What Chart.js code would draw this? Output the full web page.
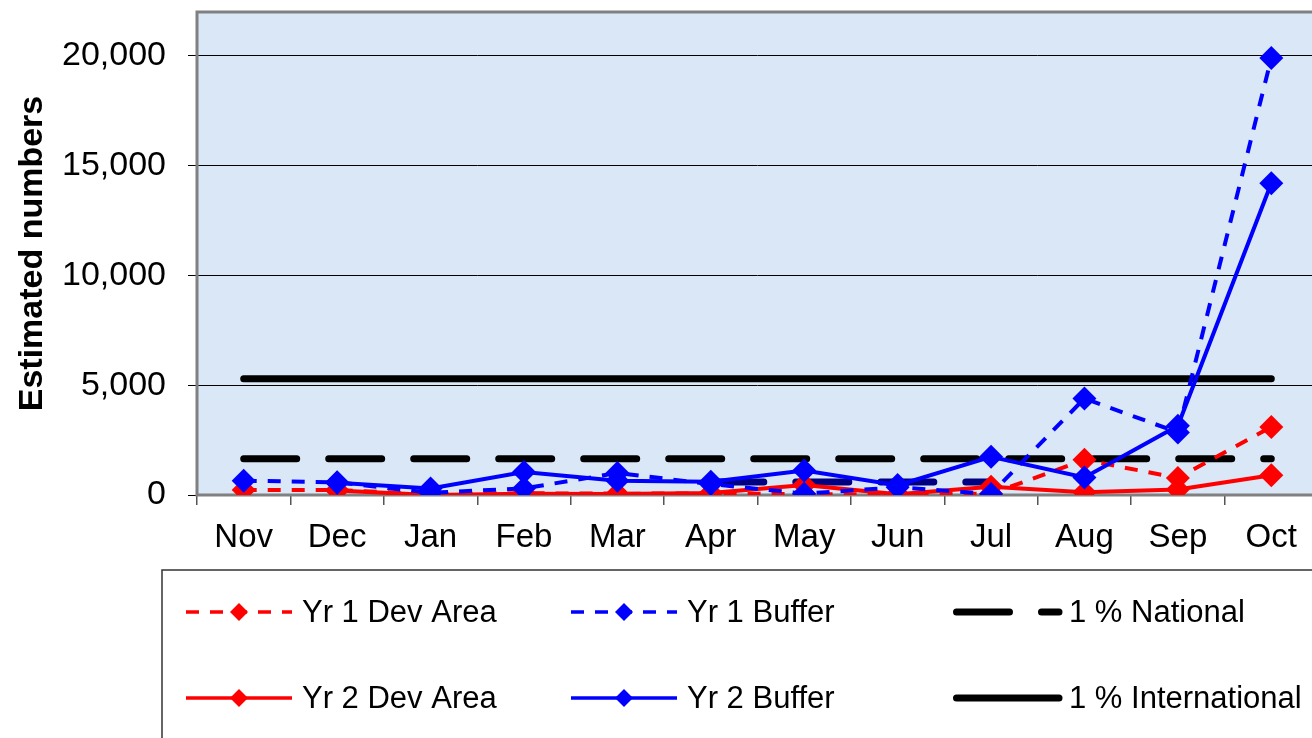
<!DOCTYPE html>
<html>
<head>
<meta charset="utf-8">
<style>
  html, body { margin: 0; padding: 0; overflow: hidden; background: #fff; }
  #wrap { width: 1330px; height: 738px; position: relative; }
  canvas { display: block; }
</style>
<script src="https://cdn.jsdelivr.net/npm/chart.js@4.4.1/dist/chart.umd.min.js"></script>
</head>
<body>
<div id="wrap"><canvas id="c" width="1330" height="738"></canvas></div>
<script>
// Monthly estimates
const months = ['Nov', 'Dec', 'Jan', 'Feb', 'Mar', 'Apr', 'May', 'Jun', 'Jul', 'Aug', 'Sep', 'Oct'];
const yr1DevArea = [230, 230, 30, 80, 60, 70, 40, 20, 60, 1600, 780, 3100];
const yr2DevArea = [null, 200, 0, 60, 40, 90, 450, 30, 380, 120, 250, 900];
const yr1Buffer = [650, 580, 100, 300, 1000, 500, 60, 350, 50, 4400, 2850, 19900];
const yr2Buffer = [null, 560, 300, 1050, 650, 600, 1120, 450, 1740, 800, 3150, 14200];
const nationalLevel = [1650, 1650, 1650, 1650, 1650, 1650, 1650, 1650, 1650, 1650, 1650, 1650];
const internationalLevel = [5300, 5300, 5300, 5300, 5300, 5300, 5300, 5300, 5300, 5300, 5300, 5300];
const midYearLevel = [null, null, null, null, null, 590, 590, 590, 590, null, null, null];
const yTicks = [0, 5000, 10000, 15000, 20000];

const FONT = '"Liberation Sans", Arial, sans-serif';
const RED = '#ff0000';
const BLUE = '#0000ff';
const DATA_DASH = [13, 11];
const LEVEL_DASH = [53, 32];

function seriesStyle(color, dashed) {
  return {
    borderColor: color,
    backgroundColor: color,
    borderWidth: 4,
    borderDash: dashed ? DATA_DASH : [],
    pointStyle: 'rectRot',
    pointRadius: 12,
    pointBorderWidth: 0,
    pointBackgroundColor: color,
    spanGaps: false,
    fill: false
  };
}

const datasets = [
  Object.assign({ label: 'Yr 1 Dev Area', data: yr1DevArea, order: 4 }, seriesStyle(RED, true)),
  Object.assign({ label: 'Yr 1 Buffer', data: yr1Buffer, order: 2 }, seriesStyle(BLUE, true)),
  Object.assign({ label: 'Yr 2 Dev Area', data: yr2DevArea, order: 3 }, seriesStyle(RED, false)),
  Object.assign({ label: 'Yr 2 Buffer', data: yr2Buffer, order: 1 }, seriesStyle(BLUE, false)),
  { label: '1 % National', data: nationalLevel, order: 6, borderColor: '#000', backgroundColor: '#000',
    borderWidth: 7, borderDash: LEVEL_DASH, borderCapStyle: 'round', pointRadius: 0, fill: false },
  { label: '1 % International', data: internationalLevel, order: 7, borderColor: '#000', backgroundColor: '#000',
    borderWidth: 7, borderCapStyle: 'round', pointRadius: 0, fill: false },
  { label: '', data: midYearLevel, order: 5, borderColor: '#000080', backgroundColor: '#000080',
    borderWidth: 7, borderDash: LEVEL_DASH, borderCapStyle: 'round', pointRadius: 0, fill: false, spanGaps: false }
];

// Legend grid: rows of dataset labels
const legendRows = [
  ['Yr 1 Dev Area', 'Yr 1 Buffer', '1 % National'],
  ['Yr 2 Dev Area', 'Yr 2 Buffer', '1 % International']
];

const plotBackground = {
  id: 'plotBackground',
  beforeDraw(chart) {
    const { ctx, chartArea: a } = chart;
    ctx.save();
    ctx.fillStyle = '#d9e7f6';
    ctx.fillRect(a.left, a.top, a.right - a.left, a.bottom - a.top);
    ctx.restore();
  },
  beforeDatasetsDraw(chart) {
    const { ctx, chartArea: a } = chart;
    ctx.save();
    ctx.strokeStyle = '#808080';
    ctx.lineWidth = 3;
    ctx.beginPath();
    ctx.moveTo(a.right + 5, a.top);
    ctx.lineTo(a.left, a.top);
    ctx.lineTo(a.left, a.bottom);
    ctx.lineTo(a.right + 5, a.bottom);
    ctx.stroke();
    ctx.restore();
  }
};

function drawDiamond(ctx, x, y, r, color) {
  ctx.beginPath();
  ctx.moveTo(x - r, y);
  ctx.lineTo(x, y - r);
  ctx.lineTo(x + r, y);
  ctx.lineTo(x, y + r);
  ctx.closePath();
  ctx.fillStyle = color;
  ctx.fill();
}

const gridLegend = {
  id: 'gridLegend',
  afterDraw(chart) {
    const ctx = chart.ctx;
    const boxLeft = 162, boxTop = 570;
    const colStart = [186, 571, 953];
    const rowY = [612, 698];
    const sampleLen = 106;
    ctx.save();
    ctx.strokeStyle = '#333';
    ctx.lineWidth = 1.5;
    ctx.strokeRect(boxLeft, boxTop, chart.width - boxLeft + 20, chart.height - boxTop + 20);

    legendRows.forEach((row, ri) => {
      row.forEach((label, ci) => {
        const ds = chart.data.datasets.find(d => d.label === label);
        const x0 = colStart[ci], y = rowY[ri];
        const isLevel = ds.pointRadius === 0;
        ctx.save();
        ctx.strokeStyle = ds.borderColor;
        ctx.lineWidth = isLevel ? 7 : 3.5;
        ctx.lineCap = isLevel ? 'round' : 'butt';
        ctx.setLineDash(ds.borderDash && ds.borderDash.length ? ds.borderDash : []);
        ctx.beginPath();
        ctx.moveTo(x0 + (isLevel ? 3.5 : 0), y);
        ctx.lineTo(x0 + sampleLen, y);
        ctx.stroke();
        ctx.restore();
        if (!isLevel) drawDiamond(ctx, x0 + sampleLen / 2, y, 9, ds.borderColor);
        ctx.fillStyle = '#000';
        ctx.font = '31px ' + FONT;
        ctx.textBaseline = 'middle';
        ctx.textAlign = 'left';
        ctx.fillText(label, x0 + 116, y + 1);
      });
    });
    ctx.restore();
  }
};

new Chart(document.getElementById('c'), {
  type: 'line',
  data: { labels: months, datasets },
  plugins: [plotBackground, gridLegend],
  options: {
    responsive: false,
    animation: false,
    events: [],
    layout: { padding: { left: 0, right: 7, top: 11, bottom: 0 } },
    plugins: {
      legend: { display: false },
      tooltip: { enabled: false }
    },
    scales: {
      x: {
        offset: true,
        grid: { offset: true, drawOnChartArea: false, color: '#555', lineWidth: 1.5, tickLength: 10 },
        border: { display: false },
        ticks: { color: '#000', font: { family: FONT, size: 33 }, padding: 13, maxRotation: 0, autoSkip: false },
        afterFit(scale) { scale.height = 243; scale.paddingLeft = 0; scale.paddingRight = 0; }
      },
      y: {
        min: 0,
        max: 22000,
        afterBuildTicks(scale) { scale.ticks = yTicks.map(v => ({ value: v })); },
        grid: { color: '#000', lineWidth: 1, tickLength: 9 },
        border: { display: false },
        ticks: {
          color: '#000',
          font: { family: FONT, size: 34 },
          padding: 22,
          callback: v => Number(v).toLocaleString('en-US')
        },
        title: {
          display: true,
          text: 'Estimated numbers',
          color: '#000',
          font: { family: FONT, size: 34, weight: 'bold' },
          padding: { top: 12, bottom: 0 }
        },
        afterFit(scale) { scale.width = 197; scale.paddingTop = 0; scale.paddingBottom = 0; }
      }
    }
  }
});
</script>
</body>
</html>
